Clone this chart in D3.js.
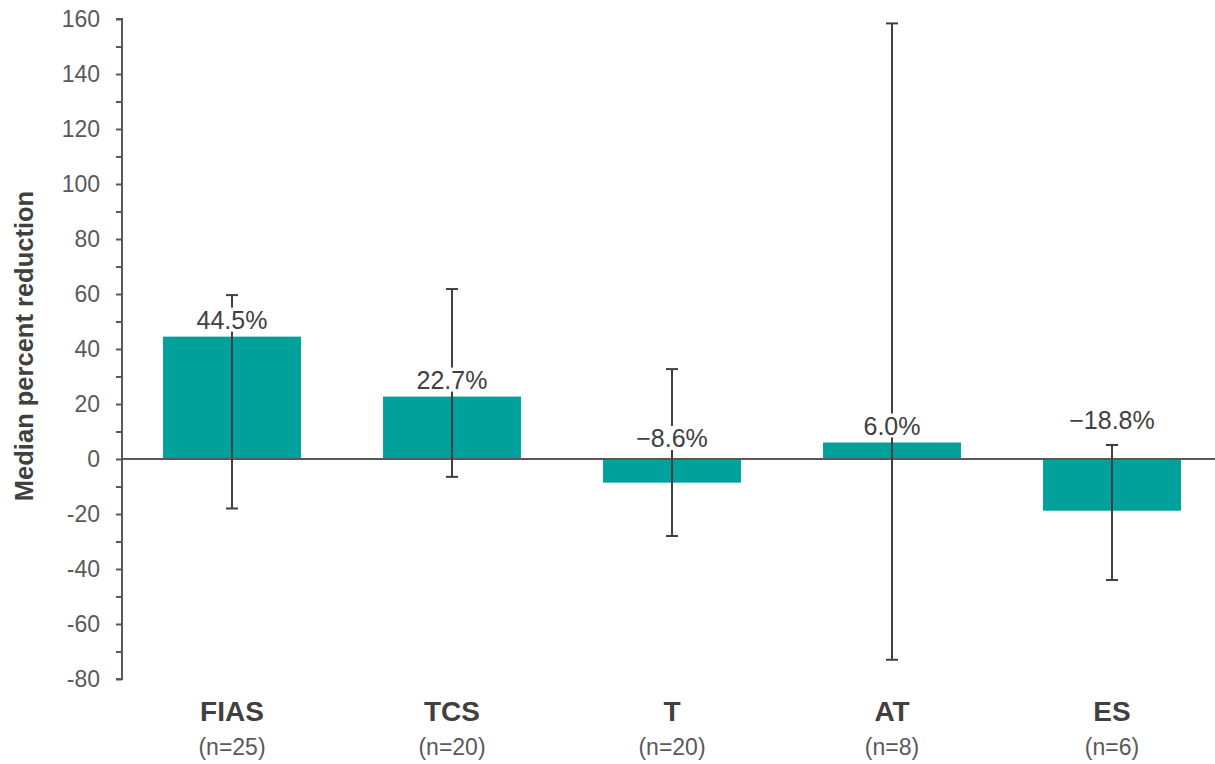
<!DOCTYPE html>
<html>
<head>
<meta charset="utf-8">
<script src="https://cdn.jsdelivr.net/npm/d3@7"></script>
<style>
  html, body { margin: 0; padding: 0; background: #fff; }
  svg { display: block; font-family: "Liberation Sans", Arial, sans-serif; }
</style>
</head>
<body>
<svg id="chart" width="1215" height="764"></svg>
<script>
// ---- data ----
const categories = ["FIAS", "TCS", "T", "AT", "ES"];
const sampleSizes = ["(n=25)", "(n=20)", "(n=20)", "(n=8)", "(n=6)"];
const medians = [44.5, 22.7, -8.6, 6.0, -18.8];
const valueLabels = ["44.5%", "22.7%", "\u22128.6%", "6.0%", "\u221218.8%"];
const errLow = [-18, -6.5, -28, -73, -44];
const errHigh = [59.6, 61.8, 32.7, 158.4, 5.1];
const yTicks = [-80, -60, -40, -20, 0, 20, 40, 60, 80, 100, 120, 140, 160];
const yMinorTicks = [-70, -50, -30, -10, 10, 30, 50, 70, 90, 110, 130, 150];
const yTitle = "Median percent reduction";

// ---- layout ----
const svg = d3.select("#chart");
const axisX = 122;
const x = d3.scaleBand().domain(categories).range([axisX, 1222]).paddingInner(0.373).paddingOuter(0.1865);
const y = d3.scaleLinear().domain([-80, 160]).range([679, 19]);

const axisColor = "#595959";
const textDark = "#404040";
const barColor = "#00A19A";

// bars
svg.append("g").selectAll("rect").data(categories).join("rect")
  .attr("x", d => x(d))
  .attr("width", x.bandwidth())
  .attr("y", (d, i) => Math.min(y(medians[i]), y(0)))
  .attr("height", (d, i) => Math.abs(y(medians[i]) - y(0)))
  .attr("fill", barColor);

// y axis
const yAxis = svg.append("g").attr("transform", `translate(${axisX},0)`)
  .call(d3.axisLeft(y).tickValues(yTicks).tickSize(6).tickPadding(16).tickFormat(d => String(d)));
yAxis.select(".domain").attr("stroke", axisColor).attr("stroke-width", 2).attr("d", `M-6,${y(160)}H0V${y(-80)}H-6`);
yAxis.selectAll(".tick line").attr("stroke", axisColor).attr("stroke-width", 2);
yAxis.selectAll(".tick text").attr("fill", axisColor).attr("font-size", 23).attr("font-family", "Liberation Sans, Arial, sans-serif");
const yMinor = svg.append("g").attr("transform", `translate(${axisX},0)`)
  .call(d3.axisLeft(y).tickValues(yMinorTicks).tickSize(6).tickFormat(""));
yMinor.select(".domain").remove();
yMinor.selectAll(".tick line").attr("stroke", axisColor).attr("stroke-width", 2);

// zero line
svg.append("line").attr("x1", axisX).attr("x2", 1215).attr("y1", y(0)).attr("y2", y(0))
  .attr("stroke", axisColor).attr("stroke-width", 2);

// error bars
const eb = svg.append("g").attr("stroke", textDark).attr("stroke-width", 2).attr("fill", "none");
categories.forEach((c, i) => {
  const cx = x(c) + x.bandwidth() / 2;
  eb.append("line").attr("x1", cx).attr("x2", cx).attr("y1", y(errLow[i])).attr("y2", y(errHigh[i]));
  eb.append("line").attr("x1", cx - 6).attr("x2", cx + 6).attr("y1", y(errLow[i])).attr("y2", y(errLow[i]));
  eb.append("line").attr("x1", cx - 6).attr("x2", cx + 6).attr("y1", y(errHigh[i])).attr("y2", y(errHigh[i]));
});

// value labels with white knock-out background
const lblG = svg.append("g");
categories.forEach((c, i) => {
  const cx = x(c) + x.bandwidth() / 2;
  let base;
  if (medians[i] >= 0) {
    base = y(medians[i]) - 8;
  } else {
    base = y(0) - 12;
    const capY = y(errHigh[i]);
    if (capY > base - 24 && capY < y(0)) base = capY - 16;
  }
  const g = lblG.append("g");
  const rect = g.append("rect").attr("fill", "#fff");
  const t = g.append("text").attr("x", cx).attr("y", base).attr("text-anchor", "middle")
    .attr("font-size", 25).attr("fill", textDark).text(valueLabels[i]);
  const bb = t.node().getBBox();
  rect.attr("x", bb.x).attr("y", bb.y + 2).attr("width", bb.width).attr("height", bb.height - 4);
});

// category labels
const catG = svg.append("g");
categories.forEach((c, i) => {
  const cx = x(c) + x.bandwidth() / 2;
  catG.append("text").attr("x", cx).attr("y", 721).attr("text-anchor", "middle")
    .attr("font-size", 28).attr("font-weight", "bold").attr("fill", textDark).text(c);
  catG.append("text").attr("x", cx).attr("y", 755).attr("text-anchor", "middle")
    .attr("font-size", 23).attr("fill", axisColor).text(sampleSizes[i]);
});

// y title
svg.append("text").attr("transform", "translate(33,346) rotate(-90)")
  .attr("text-anchor", "middle").attr("font-size", 25.5).attr("font-weight", "bold")
  .attr("fill", textDark).text(yTitle);
</script>
</body>
</html>
